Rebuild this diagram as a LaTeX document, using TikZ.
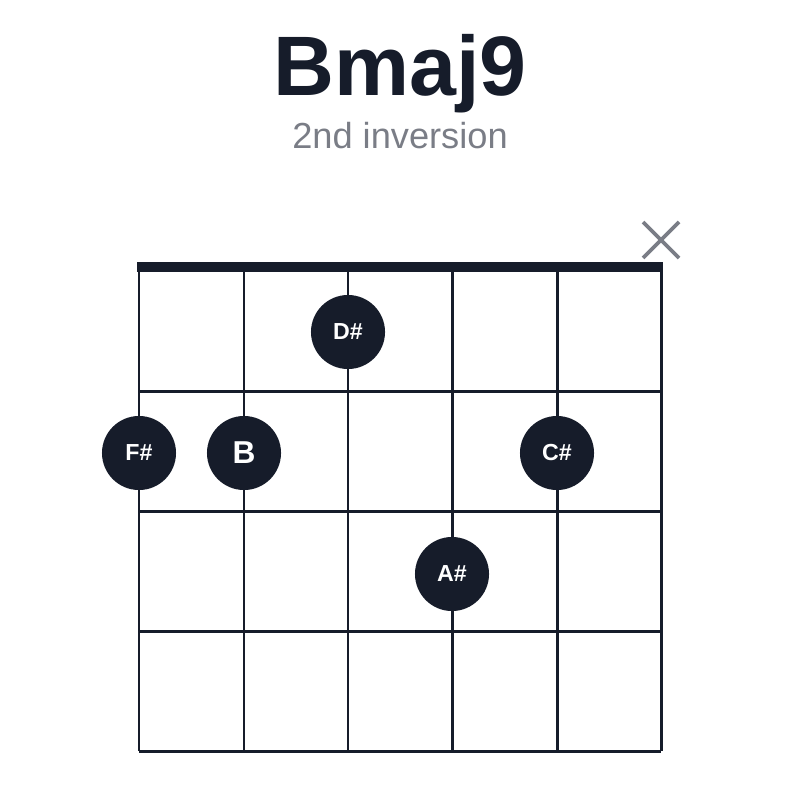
\documentclass[tikz,border=0pt]{standalone}
\usepackage{fontspec}
\setmainfont{Liberation Sans}
\definecolor{ink}{HTML}{161C2A}
\definecolor{mute}{HTML}{7A7D86}
\begin{document}
\begin{tikzpicture}[x=0.01cm,y=-0.01cm,
  grid/.style={ink,line width=0.85pt},
  dot/.style={circle,fill=ink,minimum size=0.74cm,inner sep=0pt,text=white,font=\bfseries\fontsize{6.6}{7}\selectfont}]
\useasboundingbox (0,0) rectangle (800,800);
\node[ink,font=\bfseries\fontsize{24}{26}\selectfont] (title) at (400,74) {Bmaj9};
\node[mute,font=\fontsize{10.3}{12}\selectfont] (sub) at (400,136) {2nd inversion};
\foreach \x in {139,244,348,452,557,661} \draw[grid] (\x,267) -- (\x,751);
\foreach \y in {391,511,631,751} \draw[grid] (139,\y) -- (661,\y);
\draw[ink,line width=2.9pt] (137,267) -- (663,267);
\draw[mute,line width=1.1pt] (643,222) -- (679,258) (643,258) -- (679,222);
\node[dot] (fs) at (139,453) {\raisebox{-0.5pt}{F\#}};
\node[dot,font=\bfseries\fontsize{9}{10}\selectfont] (b) at (244,453) {B};
\node[dot] (ds) at (348,332) {\raisebox{-0.5pt}{D\#}};
\node[dot] (cs) at (557,453) {\raisebox{-0.5pt}{C\#}};
\node[dot] (as) at (452,574) {\raisebox{-0.5pt}{A\#}};
\end{tikzpicture}
\end{document}
